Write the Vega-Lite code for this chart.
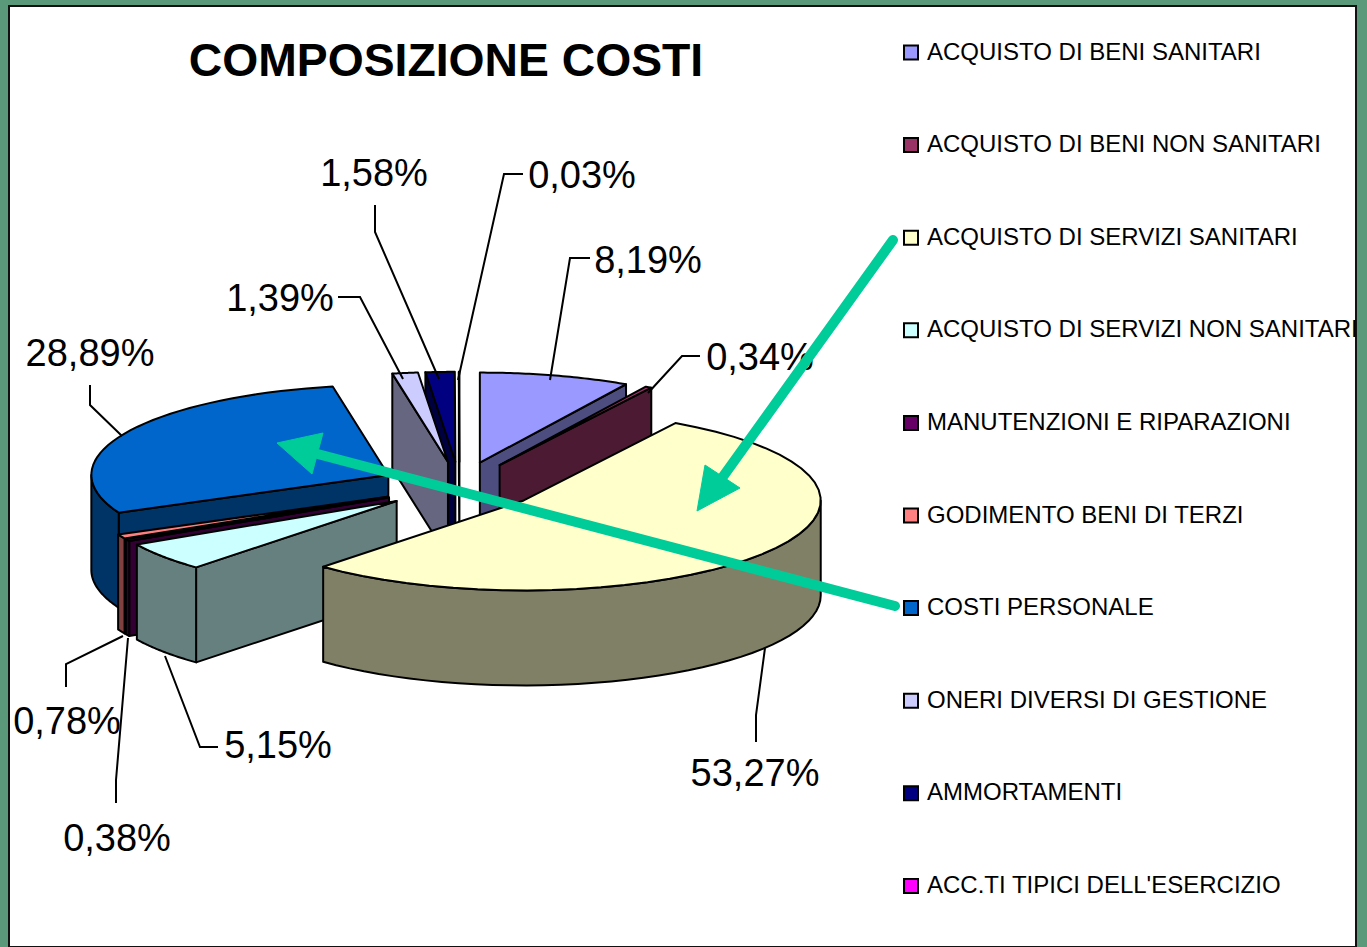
{
"$schema":"https://vega.github.io/schema/vega-lite/v6.json",
"width":1367,"height":947,"autosize":"none","padding":0,
"background":"#5A9A7A",
"config":{"view":{"stroke":null}},
"datasets":{
"voci":[
{"ordine":9,"voce":"AMMORTAMENTI","valore":1.58},
{"ordine":10,"voce":"ACC.TI TIPICI DELL'ESERCIZIO","valore":0.03},
{"ordine":8,"voce":"ONERI DIVERSI DI GESTIONE","valore":1.39},
{"ordine":1,"voce":"ACQUISTO DI BENI SANITARI","valore":8.19},
{"ordine":2,"voce":"ACQUISTO DI BENI NON SANITARI","valore":0.34},
{"ordine":7,"voce":"COSTI PERSONALE","valore":28.89},
{"ordine":6,"voce":"GODIMENTO BENI DI TERZI","valore":0.78},
{"ordine":5,"voce":"MANUTENZIONI E RIPARAZIONI","valore":0.38},
{"ordine":4,"voce":"ACQUISTO DI SERVIZI NON SANITARI","valore":5.15},
{"ordine":3,"voce":"ACQUISTO DI SERVIZI SANITARI","valore":53.27}
],
"etichette":[
{"testo":"8,19%","lx":648,"ly":262},
{"testo":"0,34%","lx":760,"ly":359},
{"testo":"1,58%","lx":374,"ly":175},
{"testo":"0,03%","lx":582,"ly":177},
{"testo":"1,39%","lx":280,"ly":300},
{"testo":"28,89%","lx":90,"ly":355},
{"testo":"53,27%","lx":755,"ly":775},
{"testo":"5,15%","lx":278,"ly":747},
{"testo":"0,38%","lx":117,"ly":840},
{"testo":"0,78%","lx":67,"ly":723}
],
"richiami":[
{"id":"a","n":0,"px":550,"py":380},{"id":"a","n":1,"px":570,"py":258},{"id":"a","n":2,"px":590,"py":258},
{"id":"b","n":0,"px":648,"py":393},{"id":"b","n":1,"px":682,"py":356},{"id":"b","n":2,"px":700,"py":356},
{"id":"c","n":0,"px":439,"py":379},{"id":"c","n":1,"px":375,"py":232},{"id":"c","n":2,"px":375,"py":205},
{"id":"d","n":0,"px":458,"py":380},{"id":"d","n":1,"px":504,"py":174},{"id":"d","n":2,"px":523,"py":174},
{"id":"e","n":0,"px":403,"py":379},{"id":"e","n":1,"px":360,"py":297},{"id":"e","n":2,"px":338,"py":297},
{"id":"f","n":0,"px":122,"py":436},{"id":"f","n":1,"px":90,"py":405},{"id":"f","n":2,"px":90,"py":385},
{"id":"g","n":0,"px":765,"py":648},{"id":"g","n":1,"px":756,"py":715},{"id":"g","n":2,"px":756,"py":742},
{"id":"h","n":0,"px":165,"py":656},{"id":"h","n":1,"px":200,"py":747},{"id":"h","n":2,"px":218,"py":747},
{"id":"i","n":0,"px":128,"py":638},{"id":"i","n":1,"px":116,"py":780},{"id":"i","n":2,"px":116,"py":803},
{"id":"j","n":0,"px":123,"py":636},{"id":"j","n":1,"px":66,"py":664},{"id":"j","n":2,"px":66,"py":687}
],
"frecce":[
{"id":"s1","n":0,"px":893,"py":240},{"id":"s1","n":1,"px":722,"py":478},
{"id":"s2","n":0,"px":895,"py":606},{"id":"s2","n":1,"px":310,"py":452}
],
"punte":[
{"id":"p1","n":0,"px":697,"py":511},{"id":"p1","n":1,"px":705,"py":465},{"id":"p1","n":2,"px":740,"py":488},
{"id":"p2","n":0,"px":277,"py":443},{"id":"p2","n":1,"px":323,"py":433},{"id":"p2","n":2,"px":312,"py":474}
],
"cornice":[{"x0":9,"x1":1356,"y0":6,"y1":947}],
"titolo":[{"testo":"COMPOSIZIONE COSTI","lx":446,"ly":62}]
},
"layer":[
{"data":{"name":"cornice"},
 "mark":{"type":"rect","fill":"white","stroke":"#111","strokeWidth":2},
 "encoding":{
  "x":{"field":"x0","type":"quantitative","scale":{"domain":[0,1367],"range":[0,1367],"nice":false},"axis":null},
  "x2":{"field":"x1"},
  "y":{"field":"y0","type":"quantitative","scale":{"domain":[0,947],"range":[0,947],"nice":false},"axis":null},
  "y2":{"field":"y1"}}},
{"data":{"name":"voci"},
 "transform":[
  {"window":[{"op":"sum","field":"valore","as":"fine"}],"sort":[{"field":"ordine","order":"ascending"}]},
  {"calculate":"(datum.fine-datum.valore)/100*2*PI","as":"a0"},
  {"calculate":"datum.fine/100*2*PI","as":"a1"},
  {"calculate":"(datum.a0+datum.a1)/2","as":"mid"},
  {"calculate":"459.5+80*sin(datum.mid)","as":"cx"},
  {"calculate":"486-24.2*cos(datum.mid)","as":"cy"},
  {"calculate":"max(datum.a0,PI/2)","as":"t0"},
  {"calculate":"min(datum.a1,3*PI/2)","as":"t1"},
  {"calculate":"[0,1,2,3]","as":"faccia"},
  {"flatten":["faccia"]},
  {"filter":"datum.faccia==3 || (datum.faccia==0 && sin(datum.a0)<0) || (datum.faccia==1 && sin(datum.a1)>0) || (datum.faccia==2 && datum.t1>datum.t0)"},
  {"calculate":"sequence(0,82)","as":"k"},
  {"flatten":["k"]},
  {"filter":"datum.faccia==3 ? datum.k<=41 : (datum.faccia==2 ? datum.k<=81 : datum.k<=3)"},
  {"calculate":"((datum.faccia==3 && datum.k==41) || (datum.faccia<2 && (datum.k==0 || datum.k==3))) ? 0 : 1","as":"r"},
  {"calculate":"datum.faccia==2 ? (datum.k>40 ? 1 : 0) : (datum.faccia<2 ? (datum.k>=2 ? 1 : 0) : 0)","as":"z"},
  {"calculate":"datum.faccia==0 ? datum.a0 : (datum.faccia==1 ? datum.a1 : (datum.faccia==2 ? (datum.k<=40 ? datum.t0+(datum.t1-datum.t0)*datum.k/40 : datum.t1-(datum.t1-datum.t0)*(datum.k-41)/40) : datum.a0+(datum.a1-datum.a0)*min(datum.k,40)/40))","as":"t"},
  {"calculate":"datum.cx+datum.r*297*sin(datum.t)","as":"px"},
  {"calculate":"datum.cy-datum.r*90*cos(datum.t)+datum.z*95","as":"py"},
  {"calculate":"datum.faccia==3 ? datum.voce : datum.voce+' lato'","as":"tinta"},
  {"calculate":"datum.ordine*10+datum.faccia","as":"id"}
 ],
 "mark":{"type":"line","interpolate":"linear-closed","stroke":"black","strokeWidth":2,"strokeJoin":"round"},
 "encoding":{
  "x":{"field":"px","type":"quantitative","scale":{"domain":[0,1367],"range":[0,1367],"nice":false},"axis":null},
  "y":{"field":"py","type":"quantitative","scale":{"domain":[0,947],"range":[0,947],"nice":false},"axis":null},
  "order":{"field":"k","type":"quantitative"},
  "detail":{"field":"id","type":"nominal"},
  "fill":{"field":"tinta","type":"nominal",
   "scale":{
    "domain":["ACQUISTO DI BENI SANITARI","ACQUISTO DI BENI NON SANITARI","ACQUISTO DI SERVIZI SANITARI","ACQUISTO DI SERVIZI NON SANITARI","MANUTENZIONI E RIPARAZIONI","GODIMENTO BENI DI TERZI","COSTI PERSONALE","ONERI DIVERSI DI GESTIONE","AMMORTAMENTI","ACC.TI TIPICI DELL'ESERCIZIO",
     "ACQUISTO DI BENI SANITARI lato","ACQUISTO DI BENI NON SANITARI lato","ACQUISTO DI SERVIZI SANITARI lato","ACQUISTO DI SERVIZI NON SANITARI lato","MANUTENZIONI E RIPARAZIONI lato","GODIMENTO BENI DI TERZI lato","COSTI PERSONALE lato","ONERI DIVERSI DI GESTIONE lato","AMMORTAMENTI lato","ACC.TI TIPICI DELL'ESERCIZIO lato"],
    "range":["#9999FF","#993366","#FFFFCC","#CCFFFF","#660066","#FF8080","#0066CC","#CCCCFF","#000080","#FF00FF",
     "#4D4D80","#4D1A33","#808066","#668080","#330033","#804040","#003366","#666680","#000040","#800080"]},
   "legend":{"orient":"none","legendX":899,"legendY":40,"title":null,
    "values":["ACQUISTO DI BENI SANITARI","ACQUISTO DI BENI NON SANITARI","ACQUISTO DI SERVIZI SANITARI","ACQUISTO DI SERVIZI NON SANITARI","MANUTENZIONI E RIPARAZIONI","GODIMENTO BENI DI TERZI","COSTI PERSONALE","ONERI DIVERSI DI GESTIONE","AMMORTAMENTI","ACC.TI TIPICI DELL'ESERCIZIO"],
    "symbolType":"square","symbolSize":196,"symbolStrokeColor":"black","symbolStrokeWidth":2,"symbolOpacity":1,
    "labelFont":"Liberation Sans","labelFontSize":24,"labelColor":"black","labelLimit":600,"labelOffset":4,"rowPadding":67.6,"clipHeight":25}}}},
{"data":{"name":"richiami"},
 "mark":{"type":"line","stroke":"black","strokeWidth":2},
 "encoding":{"x":{"field":"px","type":"quantitative","scale":{"domain":[0,1367],"range":[0,1367],"nice":false},"axis":null},"y":{"field":"py","type":"quantitative","scale":{"domain":[0,947],"range":[0,947],"nice":false},"axis":null},"order":{"field":"n","type":"quantitative"},"detail":{"field":"id","type":"nominal"}}},
{"data":{"name":"etichette"},
 "mark":{"type":"text","font":"Liberation Sans","fontSize":38,"color":"black","baseline":"middle","align":"center"},
 "encoding":{"x":{"field":"lx","type":"quantitative","scale":{"domain":[0,1367],"range":[0,1367],"nice":false},"axis":null},"y":{"field":"ly","type":"quantitative","scale":{"domain":[0,947],"range":[0,947],"nice":false},"axis":null},"text":{"field":"testo","type":"nominal"}}},
{"data":{"name":"titolo"},
 "mark":{"type":"text","font":"Liberation Sans","fontWeight":"bold","fontSize":46.3,"color":"black","baseline":"middle","align":"center"},
 "encoding":{"x":{"field":"lx","type":"quantitative","scale":{"domain":[0,1367],"range":[0,1367],"nice":false},"axis":null},"y":{"field":"ly","type":"quantitative","scale":{"domain":[0,947],"range":[0,947],"nice":false},"axis":null},"text":{"field":"testo","type":"nominal"}}},
{"data":{"name":"frecce"},
 "mark":{"type":"line","stroke":"#00CC99","strokeWidth":10,"strokeCap":"round"},
 "encoding":{"x":{"field":"px","type":"quantitative","scale":{"domain":[0,1367],"range":[0,1367],"nice":false},"axis":null},"y":{"field":"py","type":"quantitative","scale":{"domain":[0,947],"range":[0,947],"nice":false},"axis":null},"order":{"field":"n","type":"quantitative"},"detail":{"field":"id","type":"nominal"}}},
{"data":{"name":"punte"},
 "mark":{"type":"line","interpolate":"linear-closed","stroke":"#00CC99","fill":"#00CC99","strokeWidth":1},
 "encoding":{"x":{"field":"px","type":"quantitative","scale":{"domain":[0,1367],"range":[0,1367],"nice":false},"axis":null},"y":{"field":"py","type":"quantitative","scale":{"domain":[0,947],"range":[0,947],"nice":false},"axis":null},"order":{"field":"n","type":"quantitative"},"detail":{"field":"id","type":"nominal"}}}
]
}
